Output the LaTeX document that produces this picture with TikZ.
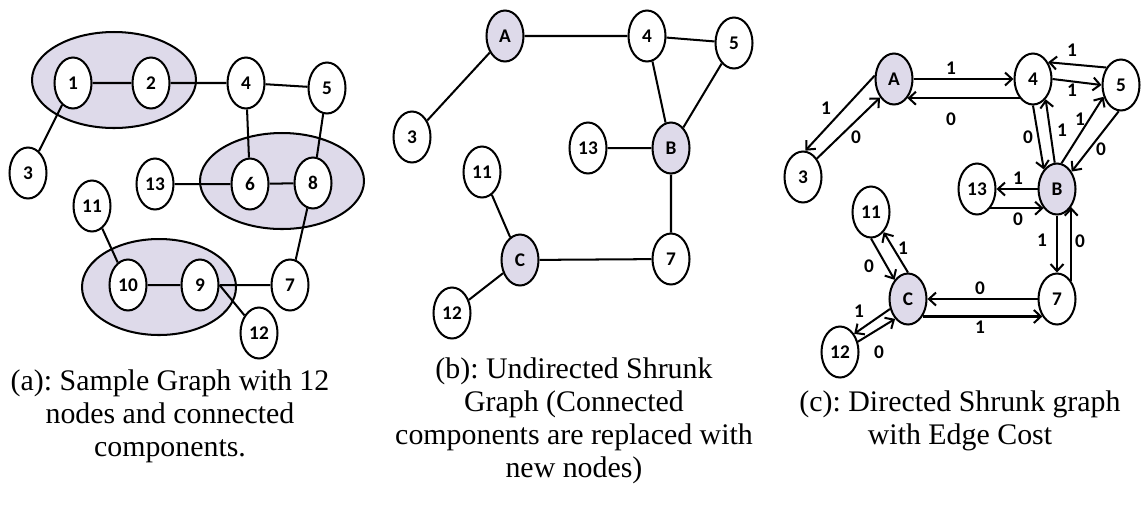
\documentclass[tikz,border=0pt]{standalone}
\usepackage{fontspec}
\setmainfont{Liberation Serif}
\newfontfamily\vtxfont{Carlito}
\usetikzlibrary{shapes.geometric,arrows.meta}
\definecolor{lilac}{RGB}{222,218,234}
\frenchspacing

\begin{document}
\begin{tikzpicture}[x=0.2mm,y=-0.2mm,line width=1.15pt,
  vtx/.style={ellipse,draw,fill=white,minimum width=7.4mm,minimum height=10.2mm,inner sep=0pt,
    font=\vtxfont\bfseries\fontsize{11}{13}\selectfont},
  vtxs/.style={vtx,fill=lilac},
  arr/.style={-{Straight Barb[length=1.4mm,width=2.6mm]}},
  cost/.style={inner sep=0pt,font=\vtxfont\bfseries\fontsize{11}{13}\selectfont},
  captxt/.style={align=center,inner sep=0pt,font=\fontsize{17}{18.8}\selectfont}]
\useasboundingbox (0,0) rectangle (1143,508);

% (a)
\draw[fill=lilac] (114,80) ellipse [x radius=16.4mm,y radius=9.6mm];
\draw[fill=lilac] (282,181) ellipse [x radius=16.4mm,y radius=9.6mm];
\draw[fill=lilac] (159,287) ellipse [x radius=15.4mm,y radius=9.6mm];

\node[vtx] (a1) at (73,83) {1};
\node[vtx] (a2) at (151,83) {2};
\node[vtx] (a4) at (246,83) {4};
\node[vtx] (a5) at (327,88) {5};
\node[vtx] (a3) at (28,173) {3};
\node[vtx] (a13) at (155,184) {13};
\node[vtx] (a6) at (250,184) {6};
\node[vtx] (a8) at (313,183) {8};
\node[vtx] (a11) at (92,206) {11};
\node[vtx] (a10) at (128,285) {10};
\node[vtx] (a9) at (200,285) {9};
\node[vtx] (a7) at (290,285) {7};
\node[vtx] (a12) at (259,333) {12};

\draw (a1)--(a2) (a2)--(a4) (a1)--(a3) (a4)--(a5) (a4)--(a6) (a5)--(a8);
\draw (a13)--(a6) (a6)--(a8) (a8)--(a7) (a11)--(a10) (a10)--(a9) (a9)--(a7);
\draw (a9.east)--(a12);

\node[captxt] (capa) at (170,416) {(a): Sample Graph with 12\\nodes and connected\\components.};

% (b)
\node[vtxs] (bA) at (505,36) {A};
\node[vtx] (b4) at (647,36) {4};
\node[vtx] (b5) at (734,43) {5};
\node[vtx] (b3) at (412,137) {3};
\node[vtx] (b13) at (588,148) {13};
\node[vtxs] (bB) at (671,148) {B};
\node[vtx] (b11) at (482,172) {11};
\node[vtxs] (bC) at (520,260) {C};
\node[vtx] (b7) at (671,259) {7};
\node[vtx] (b12) at (452,313) {12};

\draw (bA)--(b4) (bA)--(b3) (b4)--(b5) (b4)--(bB) (b5)--(bB);
\draw (b13)--(bB) (bB)--(b7) (b11)--(bC) (bC)--(b7) (bC)--(b12);

\node[captxt] (capb) at (574,421) {(b): Undirected Shrunk\\Graph (Connected\\components are replaced with\\new nodes)};

% (c)
\node[vtxs] (cA) at (894,79) {A};
\node[vtx] (c4) at (1033,79) {4};
\node[vtx] (c5) at (1121,85) {5};
\node[vtx] (c3) at (803,177) {3};
\node[vtx] (c13) at (977,189) {13};
\node[vtxs] (cB) at (1057,189) {B};
\node[vtx] (c11) at (871,212) {11};
\node[vtxs] (cC) at (908,299) {C};
\node[vtx] (c7) at (1057,299) {7};
\node[vtx] (c12) at (840,352) {12};

\draw[arr] (cA.0)--(c4.180);
\draw[arr] (c4.235)--(cA.-55);
\draw[arr] (cA.170)--(c3.85);
\draw[arr] (c3.53)--(cA.233);
\draw[arr] (c4.0)--(c5.180);
\draw[arr] (c5.130)--(c4.48);
\draw[arr] (c4.270)--(cB.124);
\draw[arr] (cB.95)--(c4.-58);
\draw[arr] (cB.80)--(c5.214);
\draw[arr] (c5.265)--(cB.50);
\draw[arr] (cB.180)--(c13.0);
\draw[arr] (c13.-55)--(cB.235);
\draw[arr] (cB.270)--(c7.90);
\draw[arr] (c7.52)--(cB.-52);
\draw[arr] (c7.180)--(cC.0);
\draw[arr] (cC.-50)--(c7.230);
\draw[arr] (c11.270)--(cC.125);
\draw[arr] (cC.90)--(c11.-58);
\draw[arr] (cC.209)--(c12.52);
\draw[arr] (c12.30)--(cC.237);

\node[cost] (wA4) at (951,68) {1};
\node[cost] (w4A) at (951,119) {0};
\node[cost] (wA3) at (826,108) {1};
\node[cost] (w3A) at (856,137) {0};
\node[cost] (w54) at (1072,50) {1};
\node[cost] (w45) at (1072,90) {1};
\node[cost] (w4B) at (1028,137) {0};
\node[cost] (wB4) at (1062,130) {1};
\node[cost] (wB5) at (1080,119) {1};
\node[cost] (w5B) at (1101,149) {0};
\node[cost] (wB13) at (1018,178) {1};
\node[cost] (w13B) at (1018,219) {0};
\node[cost] (wB7) at (1042,240) {1};
\node[cost] (w7B) at (1080,241) {0};
\node[cost] (w7C) at (980,288) {0};
\node[cost] (wC7) at (980,327) {1};
\node[cost] (w11C) at (869,266) {0};
\node[cost] (wC11) at (903,248) {1};
\node[cost] (wC12) at (859,311) {1};
\node[cost] (w12C) at (879,352) {0};

\node[captxt] (capc) at (960,421) {(c): Directed Shrunk graph\\with Edge Cost};
\end{tikzpicture}
\end{document}
